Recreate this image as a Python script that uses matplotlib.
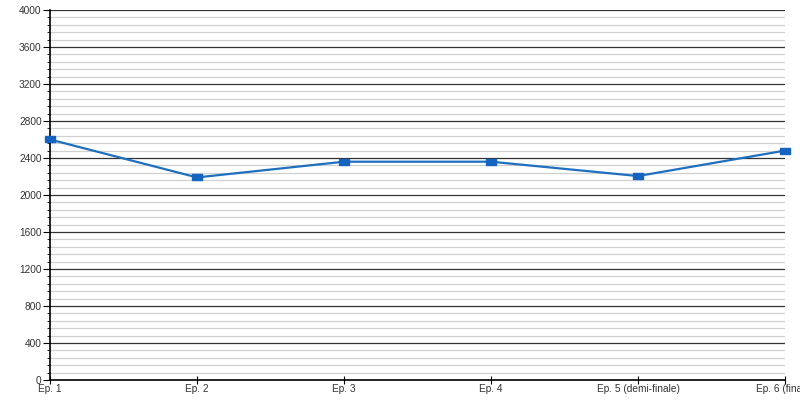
import matplotlib.pyplot as plt
import numpy as np
from matplotlib.ticker import MultipleLocator

episodes = ["Ep. 1", "Ep. 2", "Ep. 3", "Ep. 4", "Ep. 5 (demi-finale)", "Ep. 6 (finale)"]
viewers = [2600, 2190, 2360, 2360, 2205, 2480]

plt.rcParams['font.family'] = ['Liberation Sans', 'DejaVu Sans']

fig = plt.figure(figsize=(8, 4), dpi=100)
ax = fig.add_axes([50 / 800, 20 / 400, 735 / 800, 370 / 400])

x = np.arange(len(episodes))
rect = [(-1, -0.6), (1, -0.6), (1, 0.6), (-1, 0.6), (-1, -0.6)]
ax.plot(x, viewers, color='#1f6fc0', lw=1.6, marker=rect, markersize=7.5,
        markerfacecolor='#1565c0', markeredgecolor='#1565c0', clip_on=False, zorder=3)

ax.set_xlim(0, len(episodes) - 1)
ax.set_ylim(0, 4000)
ax.set_xticks(x)
ax.set_xticklabels(episodes)
ax.yaxis.set_major_locator(MultipleLocator(400))
ax.yaxis.set_minor_locator(MultipleLocator(80))

ax.grid(True, which='major', axis='y', color='#333333', lw=0.9)
ax.grid(True, which='minor', axis='y', color='#d0d0d0', lw=0.9)
ax.set_axisbelow(True)

for side in ['top', 'right']:
    ax.spines[side].set_visible(False)
for side in ['left', 'bottom']:
    ax.spines[side].set_color('black')
    ax.spines[side].set_linewidth(1.2)

ax.tick_params(axis='both', which='both', labelsize=7.3, labelcolor='#333333', color='black')
ax.tick_params(axis='x', direction='inout', length=6, pad=0)
ax.tick_params(axis='y', which='major', length=5, pad=1)
ax.tick_params(axis='y', which='minor', length=2.5)

fig.savefig('out.png', dpi=100, facecolor='white')
